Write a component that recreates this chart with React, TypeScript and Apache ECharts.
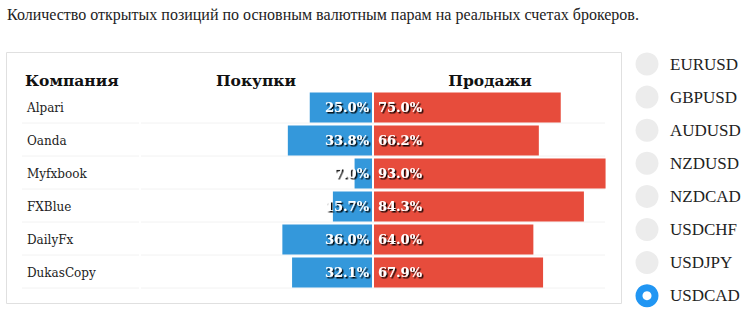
import React, { useEffect, useRef } from "react";
import * as echarts from "echarts";

const titleText = "Количество открытых позиций по основным валютным парам на реальных счетах брокеров.";
const headers = ["Компания", "Покупки", "Продажи"];
const companies = ["Alpari", "Oanda", "Myfxbook", "FXBlue", "DailyFx", "DukasCopy"];
const buys = [25.0, 33.8, 7.0, 15.7, 36.0, 32.1];
const sells = [75.0, 66.2, 93.0, 84.3, 64.0, 67.9];
const pairs = ["EURUSD", "GBPUSD", "AUDUSD", "NZDUSD", "NZDCAD", "USDCHF", "USDJPY", "USDCAD"];
const selectedPair = "USDCAD";

const BLUE = "#3498db";
const RED = "#e74c3c";
const GRID_TOP = 91;
const ROW_H = 33;
const BAR_W = 30;
const TABLE_FONT = "DejaVu Serif";
const TIMES = "'Liberation Serif', 'Times New Roman', serif";

export default function App() {
  const ref = useRef<HTMLDivElement>(null);
  useEffect(() => {
    if (!ref.current) return;
    const chart = echarts.init(ref.current, null, { renderer: "svg" });
    const labelBase = {
      show: true,
      color: "#fff",
      fontFamily: TABLE_FONT,
      fontWeight: "bold" as const,
      fontSize: 13,
      textShadowColor: "rgba(0,0,0,0.95)",
      textShadowOffsetX: 1.5,
      textShadowOffsetY: 1.5,
      textShadowBlur: 1,
      formatter: (p: any) => Number(p.value).toFixed(1) + "%",
    };
    const graphic: any[] = [
      {
        type: "text",
        style: { text: titleText, x: 7, y: 14, fontFamily: TIMES, fontSize: 16, fill: "#222", textVerticalAlign: "middle" },
      },
      {
        type: "rect",
        shape: { x: 6.5, y: 52.5, width: 615, height: 251 },
        style: { fill: "none", stroke: "#e0e0e0", lineWidth: 1 },
      },
      {
        type: "text",
        style: { text: headers[0], x: 25, y: 80, fontFamily: TABLE_FONT, fontWeight: "bold", fontSize: 15.5, fill: "#111", textVerticalAlign: "middle" },
      },
      {
        type: "text",
        style: { text: headers[1], x: 256, y: 80, fontFamily: TABLE_FONT, fontWeight: "bold", fontSize: 15.5, fill: "#111", textAlign: "center", textVerticalAlign: "middle" },
      },
      {
        type: "text",
        style: { text: headers[2], x: 490, y: 80, fontFamily: TABLE_FONT, fontWeight: "bold", fontSize: 15.5, fill: "#111", textAlign: "center", textVerticalAlign: "middle" },
      },
    ];
    companies.forEach((_, i) => {
      const y = GRID_TOP + ROW_H * (i + 1) - 1.5 + 0.5;
      graphic.push({ type: "line", shape: { x1: 22, y1: y, x2: 139, y2: y }, style: { stroke: "#f2f2f2", lineWidth: 1 } });
      graphic.push({ type: "line", shape: { x1: 141, y1: y, x2: 605, y2: y }, style: { stroke: "#f2f2f2", lineWidth: 1 } });
    });
    pairs.forEach((p, i) => {
      const cy = 64 + i * 33.1;
      const sel = p === selectedPair;
      graphic.push({
        type: "circle",
        shape: { cx: 647, cy, r: 11.5 },
        style: { fill: sel ? "#2196f3" : "#ececec" },
      });
      if (sel) {
        graphic.push({ type: "circle", shape: { cx: 647, cy, r: 4.5 }, style: { fill: "#fff" } });
      }
      graphic.push({
        type: "text",
        style: { text: p, x: 670, y: cy, fontFamily: TIMES, fontSize: 17, fill: "#222", textVerticalAlign: "middle" },
      });
    });

    chart.setOption({
      animation: false,
      grid: [
        { left: 123, top: GRID_TOP, width: 249, height: ROW_H * companies.length },
        { left: 374, top: GRID_TOP, width: 249, height: ROW_H * companies.length },
      ],
      xAxis: [
        { gridIndex: 0, type: "value", min: 0, max: 100, inverse: true, show: false },
        { gridIndex: 1, type: "value", min: 0, max: 100, show: false },
      ],
      yAxis: [
        {
          gridIndex: 0,
          type: "category",
          data: companies,
          inverse: true,
          axisLine: { show: false },
          axisTick: { show: false },
          splitLine: { show: false },
          axisLabel: { align: "left", margin: 96, fontFamily: TABLE_FONT, fontSize: 12, color: "#222" },
        },
        { gridIndex: 1, type: "category", data: companies, inverse: true, show: false },
      ],
      series: [
        {
          type: "bar",
          xAxisIndex: 0,
          yAxisIndex: 0,
          data: buys,
          barWidth: BAR_W,
          itemStyle: { color: BLUE },
          label: { ...labelBase, position: "insideRight", distance: 3 },
        },
        {
          type: "bar",
          xAxisIndex: 1,
          yAxisIndex: 1,
          data: sells,
          barWidth: BAR_W,
          itemStyle: { color: RED },
          label: { ...labelBase, position: "insideLeft", distance: 4 },
        },
      ],
      graphic,
    });
    return () => chart.dispose();
  }, []);
  return <div ref={ref} style={{ position: "absolute", left: 0, top: 0, width: 752, height: 315 }} />;
}
